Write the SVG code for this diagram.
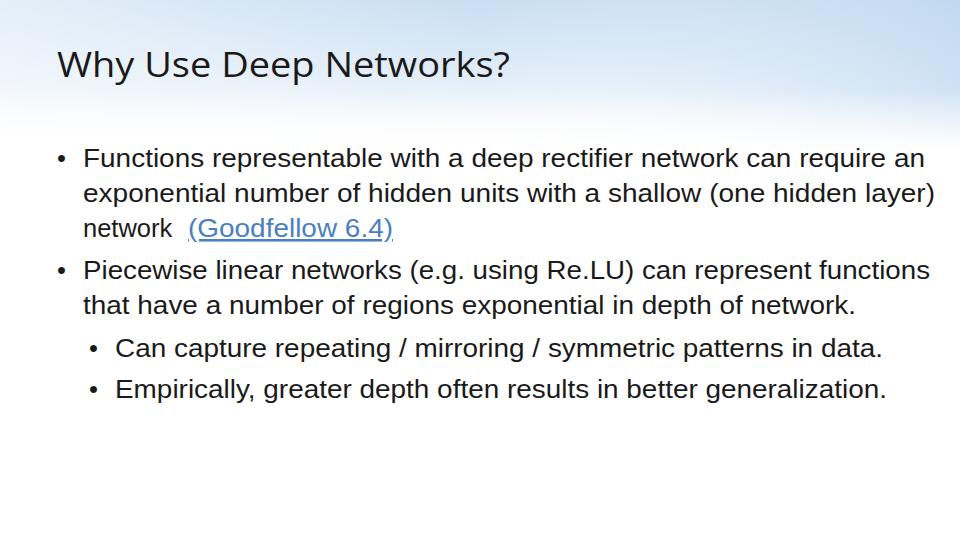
<svg xmlns="http://www.w3.org/2000/svg" width="960" height="540" viewBox="0 0 960 540">
<defs>
<linearGradient id="bg" x1="0" y1="0" x2="0" y2="1">
<stop offset="0" stop-color="#c9def2"/>
<stop offset="0.55" stop-color="#e3eef9"/>
<stop offset="1" stop-color="#ffffff"/>
</linearGradient>
<linearGradient id="side" x1="0" y1="0" x2="1" y2="0">
<stop offset="0" stop-color="#ffffff" stop-opacity="0.5"/>
<stop offset="0.5" stop-color="#ffffff" stop-opacity="0"/>
<stop offset="1" stop-color="#b7d3ee" stop-opacity="0.5"/>
</linearGradient>
<linearGradient id="fade" x1="0" y1="0" x2="0" y2="1">
<stop offset="0" stop-color="#fff" stop-opacity="0"/>
<stop offset="1" stop-color="#fff" stop-opacity="1"/>
</linearGradient>
</defs>
<style>
.t{font-family:"Open Sans","Liberation Sans",sans-serif;font-size:35px;fill:#1a1a1a}
.b{font-family:"Liberation Sans",Arial,sans-serif;font-size:25.5px;fill:#1a1a1a}
.l{fill:#4a7fc1;text-decoration:underline}
</style>
<rect width="960" height="540" fill="#fff"/>
<rect width="960" height="150" fill="url(#bg)"/>
<rect width="960" height="150" fill="url(#side)"/>
<rect y="90" width="960" height="60" fill="url(#fade)"/>
<text class="t" x="57" y="77" textLength="453" lengthAdjust="spacingAndGlyphs">Why Use Deep Networks?</text>
<g class="b">
<text x="57" y="167">•</text>
<text x="83" y="167" textLength="842" lengthAdjust="spacingAndGlyphs">Functions representable with a deep rectifier network can require an</text>
<text x="83" y="202" textLength="852" lengthAdjust="spacingAndGlyphs">exponential number of hidden units with a shallow (one hidden layer)</text>
<text x="83" y="237">network</text>
<text x="188" y="237" class="l" textLength="205" lengthAdjust="spacingAndGlyphs">(Goodfellow 6.4)</text>
<text x="57" y="279">•</text>
<text x="83" y="279" textLength="847" lengthAdjust="spacingAndGlyphs">Piecewise linear networks (e.g. using Re.LU) can represent functions</text>
<text x="83" y="314" textLength="773" lengthAdjust="spacingAndGlyphs">that have a number of regions exponential in depth of network.</text>
<text x="89" y="357">•</text>
<text x="115" y="357" textLength="768" lengthAdjust="spacingAndGlyphs">Can capture repeating / mirroring / symmetric patterns in data.</text>
<text x="89" y="398">•</text>
<text x="115" y="398" textLength="772" lengthAdjust="spacingAndGlyphs">Empirically, greater depth often results in better generalization.</text>
</g>
</svg>
